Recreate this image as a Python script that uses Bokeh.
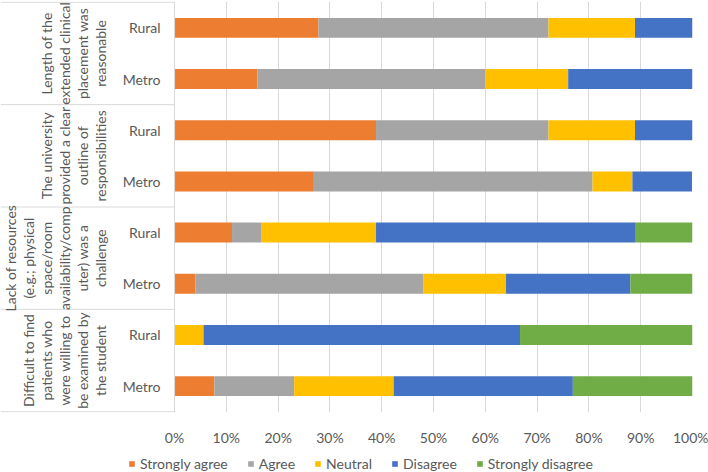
import math
from bokeh.plotting import figure
from bokeh.layouts import column
from bokeh.models import (ColumnDataSource, Range1d, FixedTicker, PrintfTickFormatter,
                          Legend, LegendItem)
from bokeh.core.properties import value
from bokeh.embed import file_html
from bokeh.resources import INLINE

# ---------------- data ----------------
questions = [
    "Length of the\nextended clinical\nplacement was\nreasonable",
    "The university\nprovided a clear\noutline of\nresponsibilities",
    "Lack of resources\n(e.g.; physical\nspace/room\navailability/comp\nuter) was a\nchallenge",
    "Difficult to find\npatients who\nwere willing to\nbe examined by\nthe student",
]
locations = ["Rural", "Metro"]
series_names = ["Strongly agree", "Agree", "Neutral", "Disagree", "Strongly disagree"]
# bars in order top -> bottom: (question 1: Rural, Metro), (question 2: Rural, Metro), ...
strongly_agree = [27.8, 16.0, 38.9, 26.9, 11.1, 4.0, 0.0, 7.7]
agree = [44.4, 44.0, 33.3, 53.8, 5.6, 44.0, 0.0, 15.4]
neutral = [16.7, 16.0, 16.7, 7.7, 22.2, 16.0, 5.6, 19.2]
disagree = [11.1, 24.0, 11.1, 11.5, 50.0, 24.0, 61.1, 34.6]
strongly_disagree = [0.0, 0.0, 0.0, 0.0, 11.1, 12.0, 33.3, 23.1]
x_ticks = [0, 10, 20, 30, 40, 50, 60, 70, 80, 90, 100]

colors = ["#ED7D31", "#A5A5A5", "#FFC000", "#4472C4", "#70AD47"]
FONT = "Lato"
TXT = "#595959"
LINE = "#D9D9D9"

n_bars = len(strongly_agree)
n_groups = len(questions)
per_group = len(locations)

bar_labels = [locations[i % per_group] for i in range(n_bars)]
bar_y = [i + 0.5 for i in range(n_bars)]

source = ColumnDataSource(dict(
    y=bar_y, label=bar_labels,
    sa=strongly_agree, a=agree, n=neutral, d=disagree, sd=strongly_disagree,
))

XMIN = -33.6
PAD = 0.015
p = figure(width=708, height=452, x_range=Range1d(XMIN, 100),
           y_range=Range1d(n_bars + PAD, -PAD),
           output_backend="svg", toolbar_location=None,
           min_border_left=0, min_border_right=16, min_border_top=1, min_border_bottom=40)
p.outline_line_color = None
p.background_fill_color = "white"
p.border_fill_color = "white"

# grid / axis
ticker = FixedTicker(ticks=x_ticks)
p.xaxis.ticker = ticker
p.xaxis.formatter = PrintfTickFormatter(format="%d%%")
p.xaxis.axis_line_color = None
p.xaxis.major_tick_line_color = None
p.xaxis.minor_tick_line_color = None
p.xaxis.major_label_standoff = 10
p.xaxis.major_label_text_font = FONT
p.xaxis.major_label_text_font_size = "14px"
p.xaxis.major_label_text_color = TXT
p.xgrid.ticker = ticker
p.xgrid.grid_line_color = LINE
p.ygrid.visible = False
p.yaxis.visible = False

# bars
p.hbar_stack(["sa", "a", "n", "d", "sd"], y="y", height=0.39,
             color=colors, line_color=None, source=source)

# category axis lines
bounds = [g * per_group for g in range(n_groups + 1)]
p.segment(x0=[XMIN] * len(bounds), x1=[0] * len(bounds), y0=bounds, y1=bounds,
          line_color=LINE, line_width=1)
p.segment(x0=[0], x1=[0], y0=[0], y1=[n_bars], line_color=LINE, line_width=1)

# inner labels (Rural / Metro)
p.text(x=0, y="y", text="label", source=source, x_offset=-14,
       text_align="right", text_baseline="middle",
       text_font=value(FONT), text_font_size="14px", text_color=TXT)

# outer (rotated) group labels
gsrc = ColumnDataSource(dict(y=[g * per_group + per_group / 2 for g in range(n_groups)],
                             text=questions))
p.text(x=0, y="y", text="text", source=gsrc, x_offset=-66, angle=math.pi / 2,
       text_align="center", text_baseline="bottom", text_line_height=1.05,
       text_font=value(FONT), text_font_size="14px", text_color=TXT)

# legend strip (swatch renderers are zero-width placeholders, invisible)
q = figure(width=708, height=20, x_range=Range1d(0, 1), y_range=Range1d(0, 1),
           output_backend="svg", toolbar_location=None,
           min_border_left=0, min_border_right=0, min_border_top=0, min_border_bottom=0)
q.axis.visible = False
q.grid.visible = False
q.outline_line_color = None
swatch_src = ColumnDataSource(dict(y=[0.5], left=[0.0], right=[0.0]))
swatches = [q.hbar(y="y", left="left", right="right", height=1, source=swatch_src,
                   fill_color=c, line_color=None) for c in colors]
legend = Legend(items=[LegendItem(label=nm, renderers=[r]) for nm, r in zip(series_names, swatches)],
                orientation="horizontal", location=(128, 0),
                glyph_width=7, glyph_height=7, label_height=16, label_standoff=5,
                spacing=19, padding=2, margin=0,
                label_text_font=FONT, label_text_font_size="14px", label_text_color=TXT,
                border_line_color=None, background_fill_alpha=0)
q.add_layout(legend, "center")

layout = column(p, q, spacing=0)
open("out.html", "w").write(file_html(layout, INLINE))
